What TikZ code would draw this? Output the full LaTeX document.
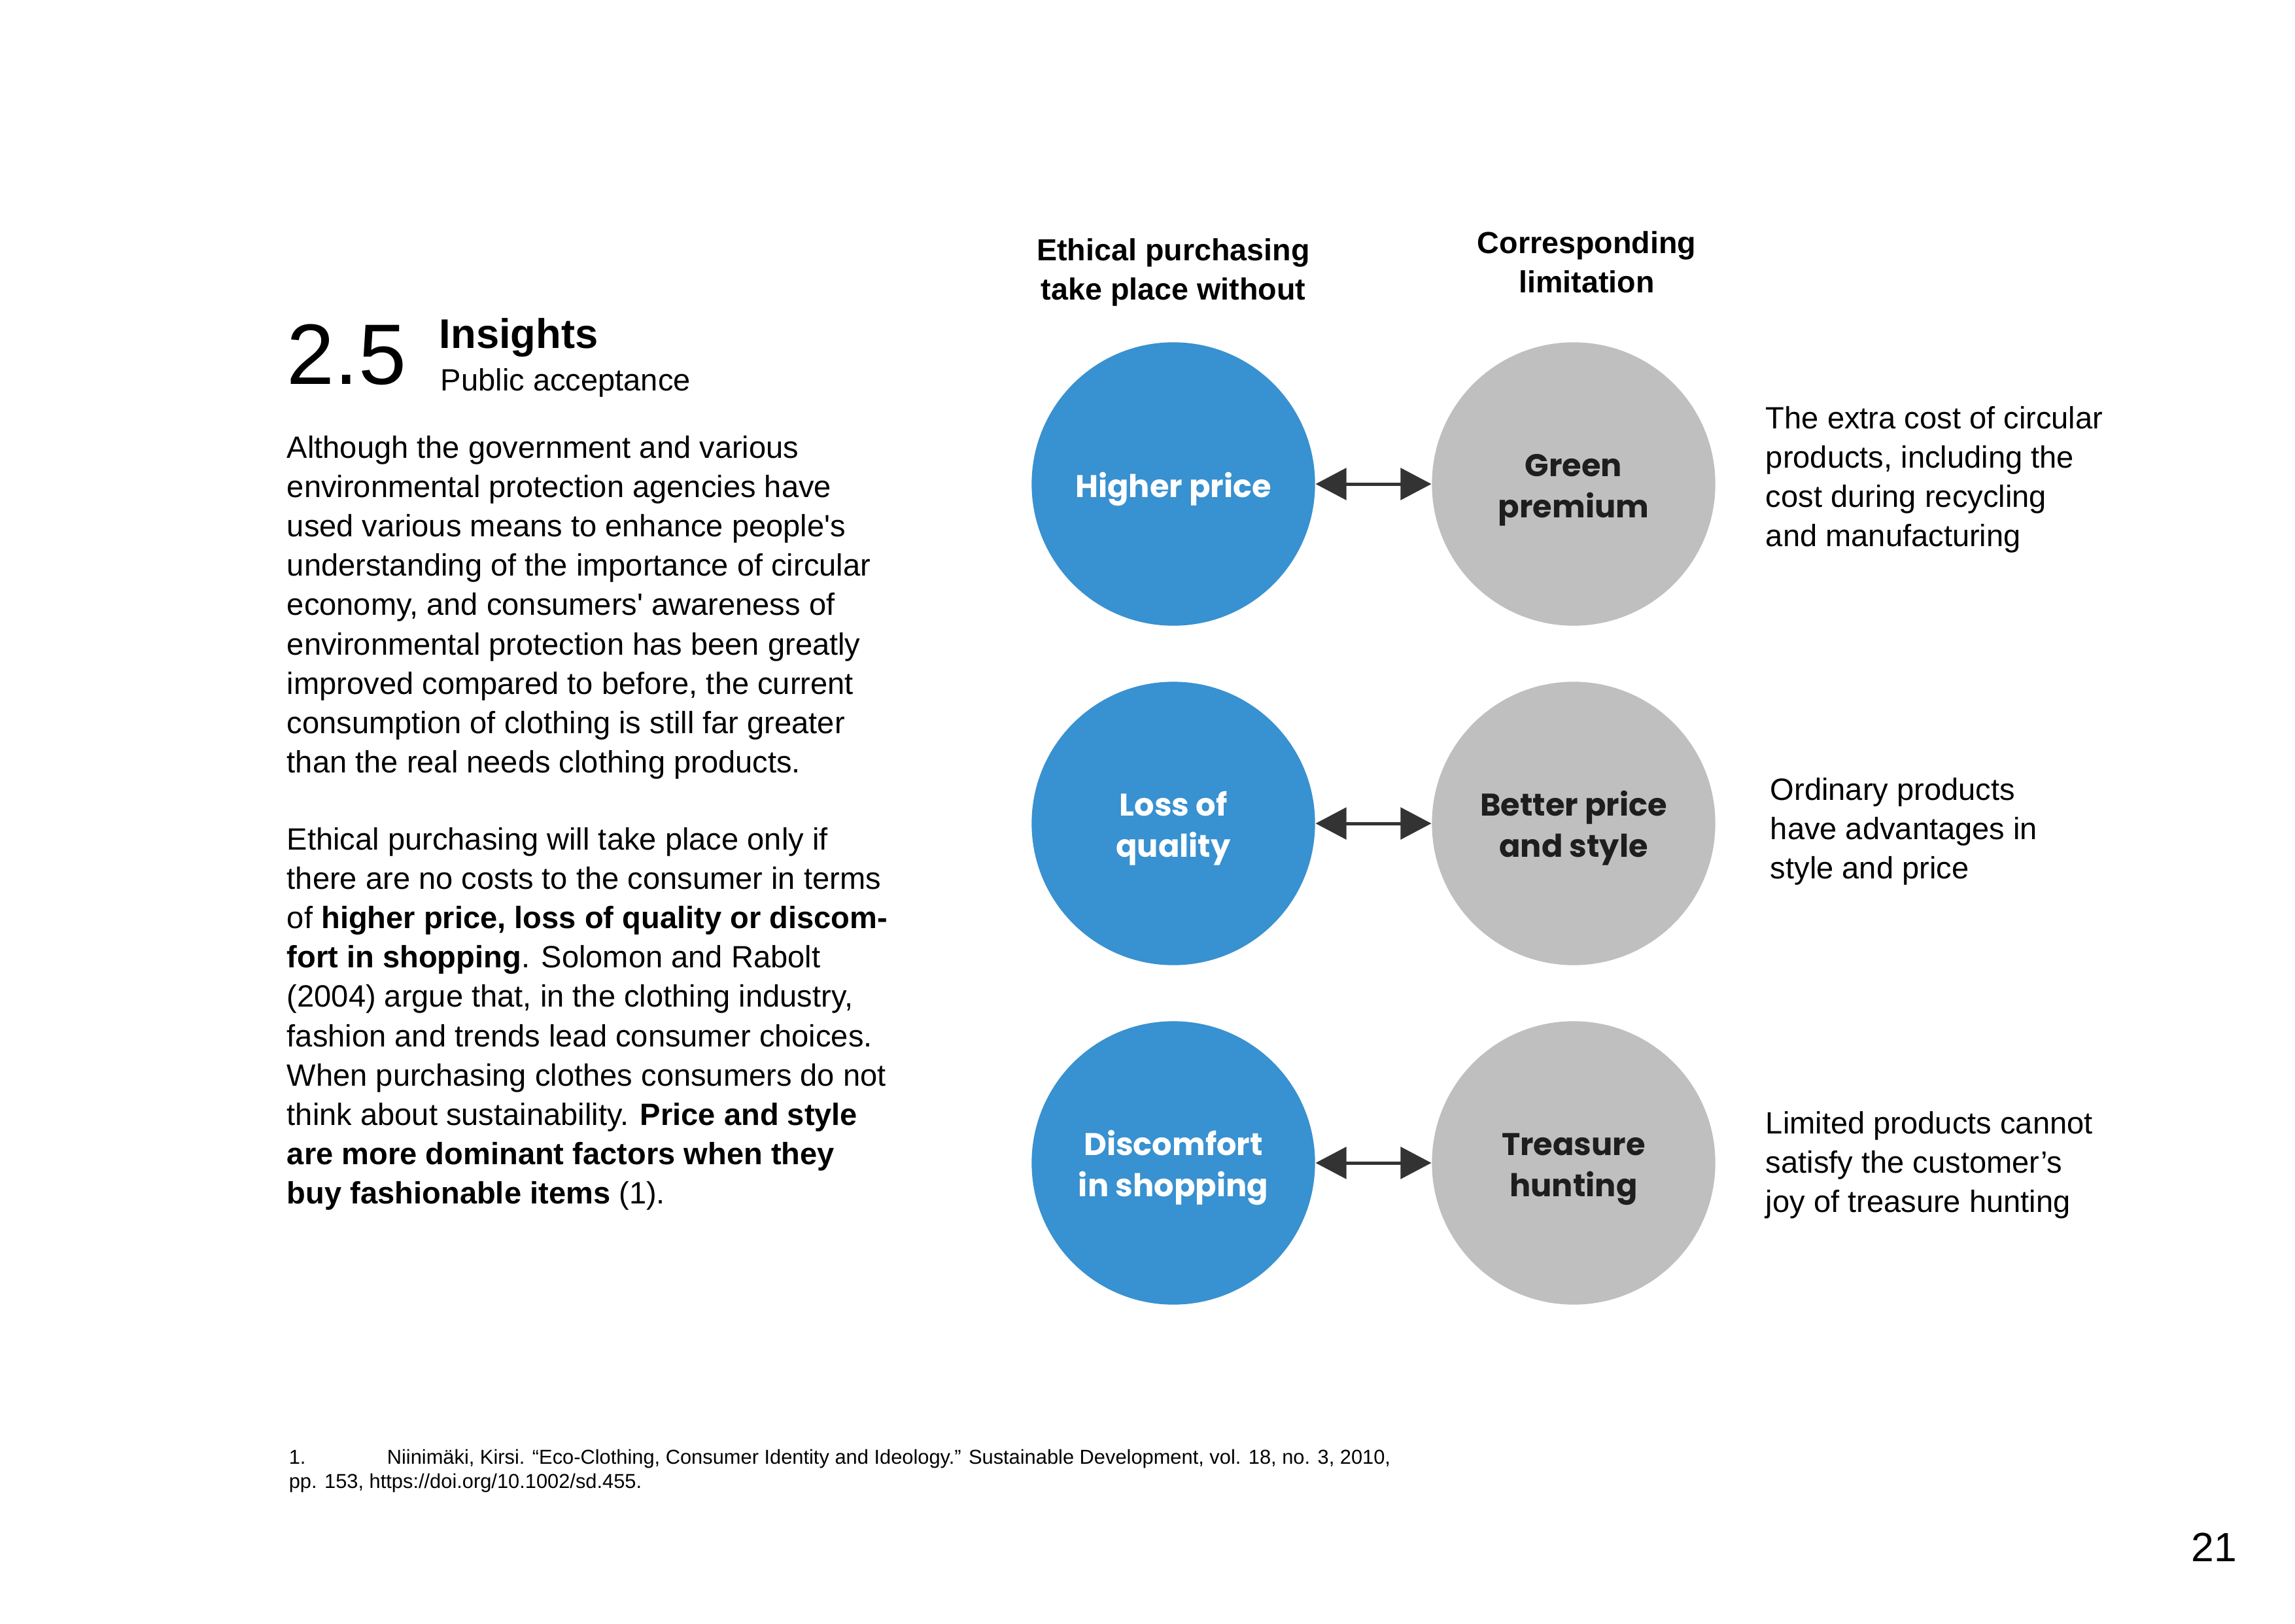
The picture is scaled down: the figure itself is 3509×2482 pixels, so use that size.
\documentclass[tikz,border=0pt]{standalone}
\usepackage{fontspec}
\setmainfont{Liberation Sans}
\newfontfamily\roundfont{Poppins}
\usetikzlibrary{arrows.meta}

\definecolor{circblue}{RGB}{56,145,208}
\definecolor{circgray}{RGB}{191,191,191}
\definecolor{arrowgray}{RGB}{51,51,51}
\definecolor{inkdark}{RGB}{30,30,30}

% a block of lines whose baseline is the first line's
\newcommand{\textlines}[2][l]{\begin{tabular}[t]{@{}#1@{}}#2\end{tabular}}
% centred label inside a circle, lowered a little while keeping its box size
\newcommand{\bubbletext}[1]{\raisebox{-1.8pt}[\height][\depth]{\begin{tabular}{@{}c@{}}#1\end{tabular}}}

\begin{document}
\begin{tikzpicture}[x=0.24pt,y=-0.24pt,
  bodytext/.style={anchor=base west, inner sep=0pt, font=\fontsize{11.3}{14.45}\selectfont},
  headtext/.style={anchor=base, inner sep=0pt, font=\fontsize{11.2}{14.4}\selectfont\bfseries},
  bubble/.style={circle, minimum size=104pt, inner sep=0pt,
    font=\roundfont\bfseries\fontsize{11.5}{15}\selectfont},
  ethic/.style={bubble, fill=circblue, text=white},
  limit/.style={bubble, fill=circgray, text=inkdark},
  biarrow/.style={{Triangle[length=11.3pt,width=11.6pt]}-{Triangle[length=11.3pt,width=11.6pt]},
    line width=1.2pt, draw=arrowgray}
]
\path[use as bounding box] (0,0) rectangle (3509,2482);

% heading
\node[anchor=base west, inner sep=0pt, font=\fontsize{31.5}{36}\selectfont] (num) at (438,587) {2.5};
\node[anchor=base west, inner sep=0pt, text depth=0pt, font=\fontsize{15.2}{17}\selectfont\bfseries] (title) at (671,532) {Insights};
\node[anchor=base west, inner sep=0pt, font=\fontsize{11.3}{13}\selectfont] (subtitle) at (673,597) {Public acceptance};

% left column text
\node[bodytext] (para1) at (438,700) {\textlines{%
Although the government and various\\
environmental protection agencies have\\
used various means to enhance people\textquotesingle s\\
understanding of the importance of circular\\
economy, and consumers\textquotesingle{} awareness of\\
environmental protection has been greatly\\
improved compared to before, the current\\
consumption of clothing is still far greater\\
than the real needs clothing products.}};

\node[bodytext] (para2) at (438,1299) {\textlines{%
Ethical purchasing will take place only if\\
there are no costs to the consumer in terms\\
of \textbf{higher price, loss of quality or discom-}\\
\textbf{fort in shopping}. Solomon and Rabolt\\
(2004) argue that, in the clothing industry,\\
fashion and trends lead consumer choices.\\
When purchasing clothes consumers do not\\
think about sustainability. \textbf{Price and style}\\
\textbf{are more dominant factors when they}\\
\textbf{buy fashionable items} (1).}};

% column headers
\node[headtext] (headA) at (1794,398) {\textlines[c]{Ethical purchasing\\take place without}};
\node[headtext] (headB) at (2426,387) {\textlines[c]{Corresponding\\limitation}};

% circles
\node[ethic] (hp) at (1794,740) {\bubbletext{Higher price}};
\node[limit] (gp) at (2406,740) {\bubbletext{Green\\premium}};
\node[ethic] (lq) at (1794,1259) {\bubbletext{Loss of\\quality}};
\node[limit] (bp) at (2406,1259) {\bubbletext{Better price\\and style}};
\node[ethic] (ds) at (1794,1778) {\bubbletext{Discomfort\\in shopping}};
\node[limit] (th) at (2406,1778) {\bubbletext{Treasure\\hunting}};

% connectors
\draw[biarrow] (hp) -- (gp);
\draw[biarrow] (lq) -- (bp);
\draw[biarrow] (ds) -- (th);

% explanations
\node[bodytext] (noteA) at (2699,655) {\textlines{%
The extra cost of circular\\
products, including the\\
cost during recycling\\
and manufacturing}};
\node[bodytext] (noteB) at (2706,1223) {\textlines{%
Ordinary products\\
have advantages in\\
style and price}};
\node[bodytext] (noteC) at (2699,1733) {\textlines{%
Limited products cannot\\
satisfy the customer’s\\
joy of treasure hunting}};

% footnote
\node[anchor=base west, inner sep=0pt, font=\fontsize{7.4}{9.1}\selectfont] (foot) at (441,2238) {\textlines{%
\makebox[36pt][l]{1.}Niinimäki, Kirsi. “Eco-Clothing, Consumer Identity and Ideology.” Sustainable Development, vol. 18, no. 3, 2010,\\
pp. 153, https://doi.org/10.1002/sd.455.}};

% page number
\node[anchor=base west, inner sep=0pt, font=\fontsize{15}{18}\selectfont] (page) at (3350,2387) {21};
\end{tikzpicture}
\end{document}
